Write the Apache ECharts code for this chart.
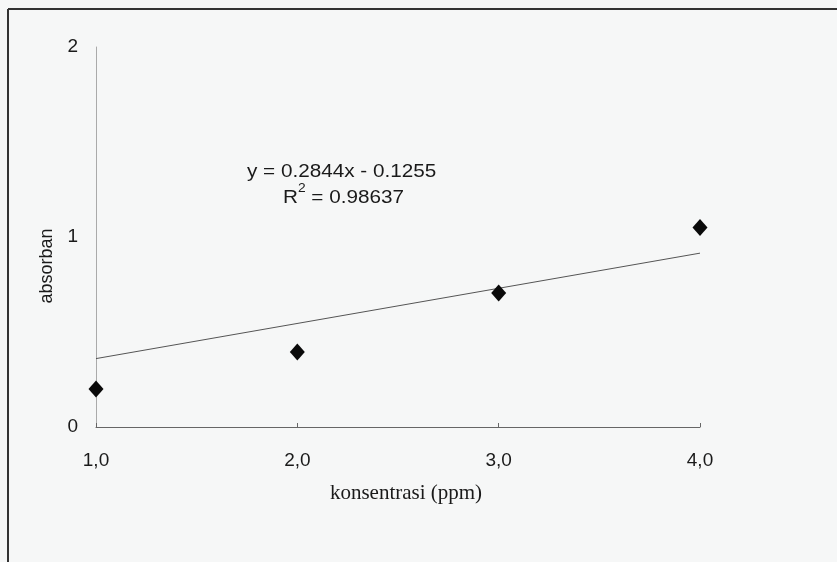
<!DOCTYPE html>
<html>
<head>
<meta charset="utf-8">
<script src="https://cdn.jsdelivr.net/npm/echarts@6/dist/echarts.min.js"></script>
<style>
  html, body { margin: 0; padding: 0; background: #f6f7f7; }
  #chart { width: 837px; height: 562px; }
</style>
</head>
<body>
<div id="chart"></div>
<script>
// konsentrasi (ppm) vs absorban
const konsentrasi = [1, 2, 3, 4];
const absorban = [0.2, 0.395, 0.705, 1.05];
// trend line as drawn in the figure
const trendX = [1, 4];
const trendY = [0.36, 0.915];
const xTicks = [1, 2, 3, 4];
const yTicks = [0, 1, 2];
const equationText = 'y = 0.2844x - 0.1255';
const r2Value = '0.98637';

const chart = echarts.init(document.getElementById('chart'));

const textColor = '#1a1a1a';

const option = {
  backgroundColor: '#f6f7f7',
  animation: false,
  grid: { left: 96, right: 137, top: 47, bottom: 135 },
  xAxis: {
    type: 'value',
    min: xTicks[0],
    max: xTicks[xTicks.length - 1],
    interval: 1,
    axisLine: { lineStyle: { color: '#666', width: 1 } },
    axisTick: { inside: true, length: 4, lineStyle: { color: '#666' } },
    axisLabel: {
      margin: 24,
      fontFamily: 'Liberation Sans',
      fontSize: 19,
      color: textColor,
      formatter: (v) => v.toFixed(1).replace('.', ',')
    },
    splitLine: { show: false }
  },
  yAxis: {
    type: 'value',
    min: yTicks[0],
    max: yTicks[yTicks.length - 1],
    interval: 1,
    axisLine: { show: true, lineStyle: { color: '#aaa', width: 1 } },
    axisTick: { show: false },
    axisLabel: { margin: 18, fontFamily: 'Liberation Sans', fontSize: 19, color: textColor },
    splitLine: { show: false }
  },
  series: [
    {
      type: 'line',
      data: trendX.map((x, i) => [x, trendY[i]]),
      symbol: 'none',
      lineStyle: { color: '#555', width: 1 },
      z: 2
    },
    {
      type: 'scatter',
      data: konsentrasi.map((x, i) => [x, absorban[i]]),
      symbol: 'diamond',
      symbolSize: [15, 17],
      itemStyle: { color: '#0a0a0a', opacity: 1 },
      z: 3
    }
  ],
  graphic: [
    // scanned page frame
    { type: 'line', shape: { x1: 8, y1: 9, x2: 837, y2: 9 }, style: { stroke: '#333', lineWidth: 2 } },
    { type: 'line', shape: { x1: 8, y1: 9, x2: 8, y2: 562 }, style: { stroke: '#333', lineWidth: 2 } },
    // axis names
    {
      type: 'text',
      x: 47,
      y: 266,
      rotation: Math.PI / 2,
      style: {
        text: 'absorban',
        font: '18px "Liberation Sans"',
        fill: textColor,
        align: 'center',
        verticalAlign: 'middle'
      }
    },
    {
      type: 'text',
      x: 406,
      y: 493,
      style: {
        text: 'konsentrasi (ppm)',
        font: '21px "Liberation Serif"',
        fill: textColor,
        align: 'center',
        verticalAlign: 'middle'
      }
    },
    // regression annotation
    {
      type: 'text',
      x: 247,
      y: 172,
      scaleX: 1.15,
      style: {
        text: equationText,
        font: '18px "Liberation Sans"',
        fill: textColor,
        verticalAlign: 'middle'
      }
    },
    {
      type: 'text',
      x: 283,
      y: 183,
      scaleX: 1.15,
      style: {
        text: '{b|R}{s|2}{b| = ' + r2Value + '}',
        rich: {
          b: { font: '18px "Liberation Sans"', fill: textColor, verticalAlign: 'bottom', lineHeight: 24 },
          s: { font: '12px "Liberation Sans"', fill: textColor, verticalAlign: 'top', lineHeight: 24, padding: [0, 0, 10, 0] }
        }
      }
    }
  ]
};

chart.setOption(option);
</script>
</body>
</html>
